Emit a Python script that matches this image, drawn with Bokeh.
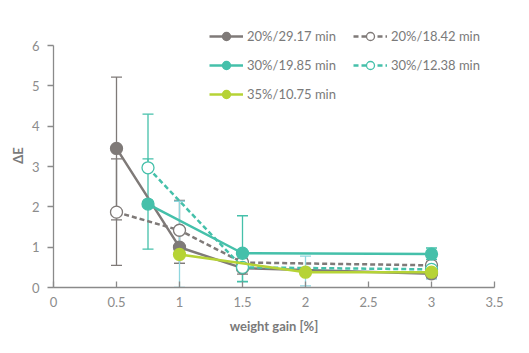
from bokeh.plotting import figure
from bokeh.models import ColumnDataSource, Whisker, TeeHead, Legend, LegendItem, Range1d, FixedTicker
from bokeh.embed import file_html
from bokeh.resources import INLINE

# ---- data ----
labels = ["20%/29.17 min", "20%/18.42 min", "30%/19.85 min", "30%/12.38 min", "35%/10.75 min"]

x1 = [0.5, 1.0, 1.5, 3.0]
y1 = [3.45, 1.0, 0.48, 0.34]
up1 = [1.77, 0.40, 0.15, 0.10]
lo1 = [1.77, 0.40, 0.15, 0.10]

x2 = [0.5, 1.0, 1.5, 3.0]
y2 = [1.87, 1.42, 0.62, 0.55]
up2 = [1.32, 0.74, 0.10, 0.10]
lo2 = [1.32, 0.82, 0.10, 0.10]

x3 = [0.75, 1.5, 3.0]
y3 = [2.07, 0.85, 0.83]
up3 = [1.12, 0.93, 0.15]
lo3 = [1.12, 0.71, 0.13]

x4 = [0.75, 1.5, 3.0]
y4 = [2.97, 0.50, 0.45]
up4 = [1.33, 0.35, 0.10]
lo4 = [0.0, 0.35, 0.10]

x5 = [1.0, 2.0, 3.0]
y5 = [0.82, 0.38, 0.38]
up5 = [1.32, 0.40, 0.15]
lo5 = [0.82, 0.34, 0.17]

x_ticks = [0, 0.5, 1, 1.5, 2, 2.5, 3, 3.5]
y_ticks = [0, 1, 2, 3, 4, 5, 6]

GRAY = "#7f7a78"
TEAL = "#45c0aa"
LIME = "#b6d336"
CYAN = "#8fd6de"
FONT = "Lato"

p = figure(width=529, height=353, output_backend="svg", toolbar_location=None,
           x_range=Range1d(0, 3.5), y_range=Range1d(0, 6.55),
           min_border_left=53, min_border_right=35, min_border_top=23, min_border_bottom=66)
p.outline_line_color = None
p.grid.visible = False
p.background_fill_color = "white"
p.border_fill_color = "white"

series = [
    (x1, y1, up1, lo1, GRAY, "solid", True, GRAY),
    (x2, y2, up2, lo2, GRAY, "dashed", False, GRAY),
    (x3, y3, up3, lo3, TEAL, "solid", True, TEAL),
    (x4, y4, up4, lo4, TEAL, "dashed", False, TEAL),
    (x5, y5, up5, lo5, LIME, "solid", True, CYAN),
]

items = []
for (xs, ys, ups, los, col, dash, filled, ecol), lab in zip(series, labels):
    src = ColumnDataSource(dict(x=xs, y=ys,
                                upper=[a + b for a, b in zip(ys, ups)],
                                lower=[a - b for a, b in zip(ys, los)]))
    w = Whisker(base="x", upper="upper", lower="lower", source=src,
                line_color=ecol, line_width=1.3, level="underlay",
                upper_head=TeeHead(size=11, line_color=ecol, line_width=1.3),
                lower_head=TeeHead(size=11, line_color=ecol, line_width=1.3))
    p.add_layout(w)
    lr = p.line("x", "y", source=src, line_color=col, line_width=2.5,
                line_dash="5 3" if dash == "dashed" else "solid")
    sr = p.scatter("x", "y", source=src, size=12,
                   fill_color=col if filled else "white",
                   line_color=col, line_width=1.3)
    items.append(LegendItem(label=lab, renderers=[lr, sr]))

# legend: column-first order with 3 rows
legend = Legend(items=[items[0], items[2], items[4], items[1], items[3]],
                orientation="vertical", nrows=3,
                location=(156, 183),
                background_fill_alpha=0, border_line_color=None,
                glyph_width=34, glyph_height=20, label_standoff=4,
                label_text_font=FONT, label_text_font_size="13px",
                label_text_color="#7a7a7a", label_height=20, label_width=97,
                spacing=9, padding=0, margin=0)
p.add_layout(legend)

for ax in (p.xaxis, p.yaxis):
    ax.axis_line_color = "#8a8a8a"
    ax.axis_line_width = 1.3
    ax.major_tick_line_color = "#8a8a8a"
    ax.major_tick_line_width = 1.3
    ax.minor_tick_line_color = None
    ax.major_label_text_font = FONT
    ax.major_label_text_font_size = "13px"
    ax.major_label_text_color = "#8c8c8c"
    ax.axis_label_text_font = FONT
    ax.axis_label_text_font_size = "13px"
    ax.axis_label_text_font_style = "bold"
    ax.axis_label_text_color = "#7a7a7a"

p.yaxis.bounds = (0, 6)
p.xaxis.ticker = FixedTicker(ticks=x_ticks)
p.yaxis.ticker = FixedTicker(ticks=y_ticks)
p.xaxis.major_tick_in = 6
p.xaxis.major_tick_out = 0
p.yaxis.major_tick_in = 0
p.yaxis.major_tick_out = 6
p.xaxis.major_label_standoff = 9
p.yaxis.major_label_standoff = 8
p.xaxis.axis_label = "weight gain [%]"
p.yaxis.axis_label = "ΔE"
p.xaxis.axis_label_standoff = 8
p.yaxis.axis_label_standoff = 3

open("out.html", "w").write(file_html(p, INLINE))
